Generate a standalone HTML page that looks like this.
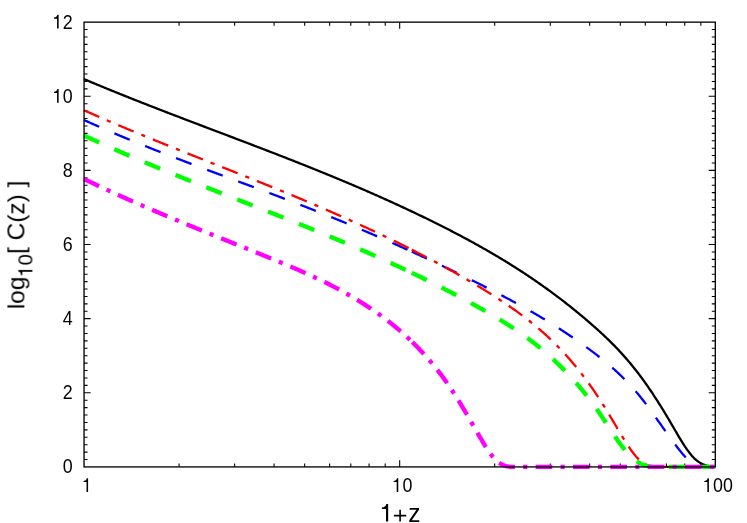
<!DOCTYPE html>
<html lang="en"><head><meta charset="utf-8"><title>log10[ C(z) ] vs 1+z</title>
<style>html,body{margin:0;padding:0;background:#fff;}body{width:747px;height:523px;overflow:hidden;font-family:"Liberation Sans",sans-serif;}svg{display:block;}</style></head>
<body>
<svg width="747" height="523" viewBox="0 0 747 523" font-family="'Liberation Sans', sans-serif" fill="#000">
<rect width="747" height="523" fill="#fff"/>
<g id="ticks"><path d="M84.05,459.51h3.5M715.30,459.51h-3.5M84.05,452.09h3.5M715.30,452.09h-3.5M84.05,444.68h3.5M715.30,444.68h-3.5M84.05,437.27h3.5M715.30,437.27h-3.5M84.05,429.86h3.5M715.30,429.86h-3.5M84.05,422.44h3.5M715.30,422.44h-3.5M84.05,415.03h3.5M715.30,415.03h-3.5M84.05,407.62h3.5M715.30,407.62h-3.5M84.05,400.20h3.5M715.30,400.20h-3.5M84.05,392.79h6.6M715.30,392.79h-6.6M84.05,385.38h3.5M715.30,385.38h-3.5M84.05,377.97h3.5M715.30,377.97h-3.5M84.05,370.55h3.5M715.30,370.55h-3.5M84.05,363.14h3.5M715.30,363.14h-3.5M84.05,355.73h3.5M715.30,355.73h-3.5M84.05,348.31h3.5M715.30,348.31h-3.5M84.05,340.90h3.5M715.30,340.90h-3.5M84.05,333.49h3.5M715.30,333.49h-3.5M84.05,326.08h3.5M715.30,326.08h-3.5M84.05,318.66h6.6M715.30,318.66h-6.6M84.05,311.25h3.5M715.30,311.25h-3.5M84.05,303.84h3.5M715.30,303.84h-3.5M84.05,296.42h3.5M715.30,296.42h-3.5M84.05,289.01h3.5M715.30,289.01h-3.5M84.05,281.60h3.5M715.30,281.60h-3.5M84.05,274.19h3.5M715.30,274.19h-3.5M84.05,266.77h3.5M715.30,266.77h-3.5M84.05,259.36h3.5M715.30,259.36h-3.5M84.05,251.95h3.5M715.30,251.95h-3.5M84.05,244.53h6.6M715.30,244.53h-6.6M84.05,237.12h3.5M715.30,237.12h-3.5M84.05,229.71h3.5M715.30,229.71h-3.5M84.05,222.30h3.5M715.30,222.30h-3.5M84.05,214.88h3.5M715.30,214.88h-3.5M84.05,207.47h3.5M715.30,207.47h-3.5M84.05,200.06h3.5M715.30,200.06h-3.5M84.05,192.65h3.5M715.30,192.65h-3.5M84.05,185.23h3.5M715.30,185.23h-3.5M84.05,177.82h3.5M715.30,177.82h-3.5M84.05,170.41h6.6M715.30,170.41h-6.6M84.05,162.99h3.5M715.30,162.99h-3.5M84.05,155.58h3.5M715.30,155.58h-3.5M84.05,148.17h3.5M715.30,148.17h-3.5M84.05,140.76h3.5M715.30,140.76h-3.5M84.05,133.34h3.5M715.30,133.34h-3.5M84.05,125.93h3.5M715.30,125.93h-3.5M84.05,118.52h3.5M715.30,118.52h-3.5M84.05,111.10h3.5M715.30,111.10h-3.5M84.05,103.69h3.5M715.30,103.69h-3.5M84.05,96.28h6.6M715.30,96.28h-6.6M84.05,88.87h3.5M715.30,88.87h-3.5M84.05,81.45h3.5M715.30,81.45h-3.5M84.05,74.04h3.5M715.30,74.04h-3.5M84.05,66.63h3.5M715.30,66.63h-3.5M84.05,59.21h3.5M715.30,59.21h-3.5M84.05,51.80h3.5M715.30,51.80h-3.5M84.05,44.39h3.5M715.30,44.39h-3.5M84.05,36.98h3.5M715.30,36.98h-3.5M84.05,29.56h3.5M715.30,29.56h-3.5M179.06,466.92v-3.5M179.06,22.15v3.5M234.64,466.92v-3.5M234.64,22.15v3.5M274.08,466.92v-3.5M274.08,22.15v3.5M304.66,466.92v-3.5M304.66,22.15v3.5M329.65,466.92v-3.5M329.65,22.15v3.5M350.78,466.92v-3.5M350.78,22.15v3.5M369.09,466.92v-3.5M369.09,22.15v3.5M385.23,466.92v-3.5M385.23,22.15v3.5M399.68,466.92v-6.6M399.68,22.15v6.6M494.69,466.92v-3.5M494.69,22.15v3.5M550.27,466.92v-3.5M550.27,22.15v3.5M589.70,466.92v-3.5M589.70,22.15v3.5M620.29,466.92v-3.5M620.29,22.15v3.5M645.28,466.92v-3.5M645.28,22.15v3.5M666.41,466.92v-3.5M666.41,22.15v3.5M684.71,466.92v-3.5M684.71,22.15v3.5M700.86,466.92v-3.5M700.86,22.15v3.5" stroke="#000" stroke-width="1.08" fill="none"/>
</g>
<g id="curves" stroke-linecap="butt" stroke-linejoin="round">
<path d="M84.05,79.13 L85.05,79.55 L86.05,79.97 L87.05,80.39 L88.05,80.81 L89.05,81.24 L90.05,81.65 L91.05,82.07 L92.05,82.49 L93.05,82.91 L94.05,83.33 L95.05,83.74 L96.05,84.16 L97.05,84.57 L98.05,84.99 L99.05,85.40 L100.05,85.81 L101.05,86.23 L102.05,86.64 L103.05,87.05 L104.05,87.46 L105.05,87.87 L106.05,88.28 L107.05,88.69 L108.05,89.10 L109.05,89.51 L110.05,89.92 L111.05,90.32 L112.05,90.73 L113.05,91.14 L114.05,91.54 L115.05,91.95 L116.05,92.35 L117.05,92.76 L118.05,93.16 L119.05,93.56 L120.05,93.97 L121.05,94.37 L122.05,94.77 L123.05,95.17 L124.05,95.57 L125.05,95.97 L126.05,96.37 L127.05,96.77 L128.05,97.17 L129.05,97.57 L130.05,97.97 L131.05,98.37 L132.05,98.76 L133.05,99.16 L134.05,99.56 L135.05,99.95 L136.05,100.35 L137.05,100.74 L138.05,101.14 L139.05,101.53 L140.05,101.93 L141.05,102.32 L142.05,102.71 L143.05,103.11 L144.05,103.50 L145.05,103.89 L146.05,104.28 L147.05,104.67 L148.05,105.07 L149.05,105.46 L150.05,105.85 L151.05,106.24 L152.05,106.63 L153.05,107.02 L154.05,107.41 L155.05,107.79 L156.05,108.18 L157.05,108.57 L158.05,108.96 L159.05,109.35 L160.05,109.73 L161.05,110.12 L162.05,110.51 L163.05,110.89 L164.05,111.28 L165.05,111.67 L166.05,112.05 L167.05,112.44 L168.05,112.82 L169.05,113.21 L170.05,113.59 L171.05,113.98 L172.05,114.36 L173.05,114.75 L174.05,115.13 L175.05,115.51 L176.05,115.90 L177.05,116.28 L178.05,116.66 L179.05,117.05 L180.05,117.43 L181.05,117.81 L182.05,118.19 L183.05,118.58 L184.05,118.96 L185.05,119.34 L186.05,119.72 L187.05,120.10 L188.05,120.48 L189.05,120.87 L190.05,121.25 L191.05,121.63 L192.05,122.01 L193.05,122.39 L194.05,122.77 L195.05,123.15 L196.05,123.53 L197.05,123.91 L198.05,124.29 L199.05,124.67 L200.05,125.05 L201.05,125.43 L202.05,125.81 L203.05,126.19 L204.05,126.57 L205.05,126.95 L206.05,127.33 L207.05,127.71 L208.05,128.09 L209.05,128.47 L210.05,128.85 L211.05,129.23 L212.05,129.60 L213.05,129.98 L214.05,130.36 L215.05,130.74 L216.05,131.12 L217.05,131.50 L218.05,131.88 L219.05,132.26 L220.05,132.64 L221.05,133.02 L222.05,133.40 L223.05,133.78 L224.05,134.16 L225.05,134.54 L226.05,134.91 L227.05,135.29 L228.05,135.67 L229.05,136.05 L230.05,136.43 L231.05,136.81 L232.05,137.19 L233.05,137.57 L234.05,137.95 L235.05,138.33 L236.05,138.71 L237.05,139.09 L238.05,139.47 L239.05,139.85 L240.05,140.23 L241.05,140.61 L242.05,140.99 L243.05,141.38 L244.05,141.76 L245.05,142.14 L246.05,142.52 L247.05,142.90 L248.05,143.28 L249.05,143.66 L250.05,144.05 L251.05,144.43 L252.05,144.81 L253.05,145.19 L254.05,145.57 L255.05,145.96 L256.05,146.34 L257.05,146.72 L258.05,147.11 L259.05,147.49 L260.05,147.87 L261.05,148.26 L262.05,148.64 L263.05,149.03 L264.05,149.41 L265.05,149.80 L266.05,150.18 L267.05,150.57 L268.05,150.95 L269.05,151.34 L270.05,151.72 L271.05,152.11 L272.05,152.50 L273.05,152.88 L274.05,153.27 L275.05,153.66 L276.05,154.05 L277.05,154.43 L278.05,154.82 L279.05,155.21 L280.05,155.60 L281.05,155.99 L282.05,156.38 L283.05,156.77 L284.05,157.16 L285.05,157.55 L286.05,157.94 L287.05,158.33 L288.05,158.72 L289.05,159.12 L290.05,159.51 L291.05,159.90 L292.05,160.29 L293.05,160.69 L294.05,161.08 L295.05,161.47 L296.05,161.87 L297.05,162.26 L298.05,162.66 L299.05,163.06 L300.05,163.45 L301.05,163.85 L302.05,164.25 L303.05,164.64 L304.05,165.04 L305.05,165.44 L306.05,165.84 L307.05,166.24 L308.05,166.64 L309.05,167.04 L310.05,167.44 L311.05,167.84 L312.05,168.24 L313.05,168.64 L314.05,169.04 L315.05,169.45 L316.05,169.85 L317.05,170.25 L318.05,170.66 L319.05,171.06 L320.05,171.47 L321.05,171.87 L322.05,172.28 L323.05,172.69 L324.05,173.10 L325.05,173.50 L326.05,173.91 L327.05,174.32 L328.05,174.73 L329.05,175.14 L330.05,175.55 L331.05,175.96 L332.05,176.37 L333.05,176.79 L334.05,177.20 L335.05,177.61 L336.05,178.03 L337.05,178.44 L338.05,178.86 L339.05,179.27 L340.05,179.69 L341.05,180.11 L342.05,180.53 L343.05,180.94 L344.05,181.36 L345.05,181.78 L346.05,182.20 L347.05,182.62 L348.05,183.04 L349.05,183.47 L350.05,183.89 L351.05,184.31 L352.05,184.74 L353.05,185.16 L354.05,185.59 L355.05,186.01 L356.05,186.44 L357.05,186.87 L358.05,187.30 L359.05,187.73 L360.05,188.16 L361.05,188.59 L362.05,189.02 L363.05,189.45 L364.05,189.88 L365.05,190.32 L366.05,190.75 L367.05,191.18 L368.05,191.62 L369.05,192.06 L370.05,192.49 L371.05,192.93 L372.05,193.37 L373.05,193.81 L374.05,194.25 L375.05,194.69 L376.05,195.13 L377.05,195.57 L378.05,196.02 L379.05,196.46 L380.05,196.91 L381.05,197.35 L382.05,197.80 L383.05,198.25 L384.05,198.69 L385.05,199.14 L386.05,199.59 L387.05,200.04 L388.05,200.50 L389.05,200.95 L390.05,201.40 L391.05,201.85 L392.05,202.31 L393.05,202.77 L394.05,203.22 L395.05,203.68 L396.05,204.14 L397.05,204.60 L398.05,205.06 L399.05,205.52 L400.05,205.98 L401.05,206.44 L402.05,206.91 L403.05,207.37 L404.05,207.84 L405.05,208.30 L406.05,208.77 L407.05,209.24 L408.05,209.71 L409.05,210.18 L410.05,210.65 L411.05,211.12 L412.05,211.60 L413.05,212.07 L414.05,212.55 L415.05,213.02 L416.05,213.50 L417.05,213.98 L418.05,214.46 L419.05,214.94 L420.05,215.42 L421.05,215.90 L422.05,216.38 L423.05,216.87 L424.05,217.35 L425.05,217.84 L426.05,218.33 L427.05,218.82 L428.05,219.30 L429.05,219.80 L430.05,220.29 L431.05,220.78 L432.05,221.27 L433.05,221.77 L434.05,222.26 L435.05,222.76 L436.05,223.26 L437.05,223.76 L438.05,224.26 L439.05,224.76 L440.05,225.26 L441.05,225.76 L442.05,226.27 L443.05,226.77 L444.05,227.28 L445.05,227.79 L446.05,228.30 L447.05,228.81 L448.05,229.32 L449.05,229.83 L450.05,230.35 L451.05,230.86 L452.05,231.38 L453.05,231.90 L454.05,232.42 L455.05,232.94 L456.05,233.46 L457.05,233.98 L458.05,234.51 L459.05,235.03 L460.05,235.56 L461.05,236.09 L462.05,236.62 L463.05,237.15 L464.05,237.69 L465.05,238.22 L466.05,238.76 L467.05,239.30 L468.05,239.84 L469.05,240.38 L470.05,240.92 L471.05,241.47 L472.05,242.01 L473.05,242.56 L474.05,243.11 L475.05,243.66 L476.05,244.22 L477.05,244.77 L478.05,245.33 L479.05,245.89 L480.05,246.45 L481.05,247.01 L482.05,247.57 L483.05,248.14 L484.05,248.71 L485.05,249.28 L486.05,249.85 L487.05,250.42 L488.05,251.00 L489.05,251.57 L490.05,252.15 L491.05,252.73 L492.05,253.32 L493.05,253.90 L494.05,254.49 L495.05,255.08 L496.05,255.67 L497.05,256.26 L498.05,256.86 L499.05,257.46 L500.05,258.06 L501.05,258.66 L502.05,259.26 L503.05,259.87 L504.05,260.48 L505.05,261.09 L506.05,261.70 L507.05,262.32 L508.05,262.93 L509.05,263.55 L510.05,264.18 L511.05,264.80 L512.05,265.43 L513.05,266.06 L514.05,266.69 L515.05,267.32 L516.05,267.96 L517.05,268.60 L518.05,269.24 L519.05,269.88 L520.05,270.53 L521.05,271.18 L522.05,271.83 L523.05,272.48 L524.05,273.14 L525.05,273.80 L526.05,274.46 L527.05,275.12 L528.05,275.79 L529.05,276.46 L530.05,277.13 L531.05,277.81 L532.05,278.49 L533.05,279.17 L534.05,279.85 L535.05,280.54 L536.05,281.22 L537.05,281.92 L538.05,282.61 L539.05,283.31 L540.05,284.01 L541.05,284.71 L542.05,285.42 L543.05,286.12 L544.05,286.84 L545.05,287.55 L546.05,288.27 L547.05,288.99 L548.05,289.71 L549.05,290.44 L550.05,291.17 L551.05,291.90 L552.05,292.63 L553.05,293.37 L554.05,294.11 L555.05,294.86 L556.05,295.61 L557.05,296.36 L558.05,297.11 L559.05,297.87 L560.05,298.63 L561.05,299.39 L562.05,300.16 L563.05,300.93 L564.05,301.70 L565.05,302.48 L566.05,303.26 L567.05,304.04 L568.05,304.83 L569.05,305.62 L570.05,306.41 L571.05,307.21 L572.05,308.01 L573.05,308.82 L574.05,309.62 L575.05,310.43 L576.05,311.25 L577.05,312.06 L578.05,312.89 L579.05,313.71 L580.05,314.54 L581.05,315.37 L582.05,316.21 L583.05,317.04 L584.05,317.89 L585.05,318.73 L586.05,319.58 L587.05,320.44 L588.05,321.29 L589.05,322.15 L590.05,323.02 L591.05,323.89 L592.05,324.76 L593.05,325.64 L594.05,326.52 L595.05,327.40 L596.05,328.29 L597.05,329.19 L598.05,330.09 L599.05,330.99 L600.05,331.91 L601.05,332.82 L602.05,333.75 L603.05,334.68 L604.05,335.62 L605.05,336.56 L606.05,337.51 L607.05,338.47 L608.05,339.44 L609.05,340.41 L610.05,341.39 L611.05,342.38 L612.05,343.38 L613.05,344.39 L614.05,345.41 L615.05,346.43 L616.05,347.47 L617.05,348.51 L618.05,349.56 L619.05,350.63 L620.05,351.70 L621.05,352.79 L622.05,353.88 L623.05,354.99 L624.05,356.11 L625.05,357.24 L626.05,358.38 L627.05,359.53 L628.05,360.69 L629.05,361.87 L630.05,363.06 L631.05,364.26 L632.05,365.48 L633.05,366.71 L634.05,367.95 L635.05,369.20 L636.05,370.47 L637.05,371.76 L638.05,373.05 L639.05,374.37 L640.05,375.69 L641.05,377.03 L642.05,378.39 L643.05,379.76 L644.05,381.15 L645.05,382.55 L646.05,383.96 L647.05,385.39 L648.05,386.83 L649.05,388.29 L650.05,389.76 L651.05,391.24 L652.05,392.73 L653.05,394.24 L654.05,395.76 L655.05,397.29 L656.05,398.84 L657.05,400.39 L658.05,401.96 L659.05,403.54 L660.05,405.13 L661.05,406.73 L662.05,408.35 L663.05,409.97 L664.05,411.61 L665.05,413.25 L666.05,414.91 L667.05,416.58 L668.05,418.25 L669.05,419.94 L670.05,421.64 L671.05,423.34 L672.05,425.06 L673.05,426.78 L674.05,428.50 L675.05,430.22 L676.05,431.94 L677.05,433.66 L678.05,435.36 L679.05,437.04 L680.05,438.71 L681.05,440.35 L682.05,441.97 L683.05,443.56 L684.05,445.12 L685.05,446.64 L686.05,448.12 L687.05,449.55 L688.05,450.94 L689.05,452.28 L690.05,453.56 L691.05,454.78 L692.05,455.95 L693.05,457.04 L694.05,458.07 L695.05,459.02 L696.05,459.90 L697.05,460.71 L698.05,461.45 L699.05,462.13 L700.05,462.74 L701.05,463.30 L702.05,463.80 L703.05,464.25 L704.05,464.64 L705.05,464.99 L706.05,465.29 L707.05,465.56 L708.05,465.78 L709.05,465.97 L710.05,466.12 L711.05,466.25 L712.05,466.36 L713.05,466.45 L714.05,466.52 L715.05,466.59" stroke="#000" stroke-width="2.3" fill="none"/>

<path d="M84.05,120.03 L85.05,120.48 L86.05,120.94 L87.05,121.39 L88.05,121.84 L89.05,122.29 L90.05,122.74 L91.05,123.19 L92.05,123.64 L93.05,124.08 L94.05,124.53 L95.05,124.97 L96.05,125.42 L97.05,125.86 L98.05,126.30 L99.05,126.74 L100.05,127.18 L101.05,127.62 L102.05,128.05 L103.05,128.49 L104.05,128.92 L105.05,129.36 L106.05,129.79 L107.05,130.22 L108.05,130.65 L109.05,131.08 L110.05,131.51 L111.05,131.94 L112.05,132.37 L113.05,132.79 L114.05,133.22 L115.05,133.64 L116.05,134.07 L117.05,134.49 L118.05,134.91 L119.05,135.33 L120.05,135.75 L121.05,136.17 L122.05,136.59 L123.05,137.01 L124.05,137.42 L125.05,137.84 L126.05,138.25 L127.05,138.67 L128.05,139.08 L129.05,139.49 L130.05,139.91 L131.05,140.32 L132.05,140.73 L133.05,141.14 L134.05,141.55 L135.05,141.95 L136.05,142.36 L137.05,142.77 L138.05,143.17 L139.05,143.58 L140.05,143.98 L141.05,144.39 L142.05,144.79 L143.05,145.19 L144.05,145.59 L145.05,145.99 L146.05,146.39 L147.05,146.79 L148.05,147.19 L149.05,147.59 L150.05,147.99 L151.05,148.38 L152.05,148.78 L153.05,149.18 L154.05,149.57 L155.05,149.96 L156.05,150.36 L157.05,150.75 L158.05,151.14 L159.05,151.54 L160.05,151.93 L161.05,152.32 L162.05,152.71 L163.05,153.10 L164.05,153.49 L165.05,153.88 L166.05,154.26 L167.05,154.65 L168.05,155.04 L169.05,155.43 L170.05,155.81 L171.05,156.20 L172.05,156.58 L173.05,156.97 L174.05,157.35 L175.05,157.74 L176.05,158.12 L177.05,158.50 L178.05,158.89 L179.05,159.27 L180.05,159.65 L181.05,160.03 L182.05,160.41 L183.05,160.79 L184.05,161.17 L185.05,161.55 L186.05,161.93 L187.05,162.31 L188.05,162.69 L189.05,163.07 L190.05,163.45 L191.05,163.82 L192.05,164.20 L193.05,164.58 L194.05,164.96 L195.05,165.33 L196.05,165.71 L197.05,166.08 L198.05,166.46 L199.05,166.84 L200.05,167.21 L201.05,167.59 L202.05,167.96 L203.05,168.33 L204.05,168.71 L205.05,169.08 L206.05,169.46 L207.05,169.83 L208.05,170.20 L209.05,170.58 L210.05,170.95 L211.05,171.32 L212.05,171.69 L213.05,172.07 L214.05,172.44 L215.05,172.81 L216.05,173.18 L217.05,173.55 L218.05,173.93 L219.05,174.30 L220.05,174.67 L221.05,175.04 L222.05,175.41 L223.05,175.78 L224.05,176.15 L225.05,176.53 L226.05,176.90 L227.05,177.27 L228.05,177.64 L229.05,178.01 L230.05,178.38 L231.05,178.75 L232.05,179.12 L233.05,179.49 L234.05,179.86 L235.05,180.23 L236.05,180.60 L237.05,180.98 L238.05,181.35 L239.05,181.72 L240.05,182.09 L241.05,182.46 L242.05,182.83 L243.05,183.20 L244.05,183.57 L245.05,183.94 L246.05,184.31 L247.05,184.69 L248.05,185.06 L249.05,185.43 L250.05,185.80 L251.05,186.17 L252.05,186.54 L253.05,186.92 L254.05,187.29 L255.05,187.66 L256.05,188.03 L257.05,188.41 L258.05,188.78 L259.05,189.15 L260.05,189.53 L261.05,189.90 L262.05,190.27 L263.05,190.65 L264.05,191.02 L265.05,191.40 L266.05,191.77 L267.05,192.15 L268.05,192.52 L269.05,192.90 L270.05,193.27 L271.05,193.65 L272.05,194.02 L273.05,194.40 L274.05,194.78 L275.05,195.15 L276.05,195.53 L277.05,195.91 L278.05,196.29 L279.05,196.67 L280.05,197.05 L281.05,197.43 L282.05,197.80 L283.05,198.18 L284.05,198.56 L285.05,198.95 L286.05,199.33 L287.05,199.71 L288.05,200.09 L289.05,200.47 L290.05,200.86 L291.05,201.24 L292.05,201.62 L293.05,202.01 L294.05,202.39 L295.05,202.78 L296.05,203.16 L297.05,203.55 L298.05,203.93 L299.05,204.32 L300.05,204.71 L301.05,205.10 L302.05,205.48 L303.05,205.87 L304.05,206.26 L305.05,206.65 L306.05,207.04 L307.05,207.43 L308.05,207.83 L309.05,208.22 L310.05,208.61 L311.05,209.00 L312.05,209.40 L313.05,209.79 L314.05,210.19 L315.05,210.58 L316.05,210.98 L317.05,211.38 L318.05,211.77 L319.05,212.17 L320.05,212.57 L321.05,212.97 L322.05,213.37 L323.05,213.77 L324.05,214.17 L325.05,214.57 L326.05,214.97 L327.05,215.38 L328.05,215.78 L329.05,216.18 L330.05,216.59 L331.05,216.99 L332.05,217.40 L333.05,217.80 L334.05,218.21 L335.05,218.62 L336.05,219.03 L337.05,219.44 L338.05,219.84 L339.05,220.25 L340.05,220.66 L341.05,221.08 L342.05,221.49 L343.05,221.90 L344.05,222.31 L345.05,222.72 L346.05,223.14 L347.05,223.55 L348.05,223.97 L349.05,224.38 L350.05,224.80 L351.05,225.22 L352.05,225.63 L353.05,226.05 L354.05,226.47 L355.05,226.89 L356.05,227.31 L357.05,227.73 L358.05,228.15 L359.05,228.57 L360.05,229.00 L361.05,229.42 L362.05,229.84 L363.05,230.27 L364.05,230.69 L365.05,231.12 L366.05,231.54 L367.05,231.97 L368.05,232.40 L369.05,232.83 L370.05,233.25 L371.05,233.68 L372.05,234.11 L373.05,234.54 L374.05,234.97 L375.05,235.41 L376.05,235.84 L377.05,236.27 L378.05,236.70 L379.05,237.14 L380.05,237.57 L381.05,238.01 L382.05,238.44 L383.05,238.88 L384.05,239.32 L385.05,239.76 L386.05,240.19 L387.05,240.63 L388.05,241.07 L389.05,241.51 L390.05,241.96 L391.05,242.40 L392.05,242.84 L393.05,243.28 L394.05,243.73 L395.05,244.17 L396.05,244.61 L397.05,245.06 L398.05,245.51 L399.05,245.95 L400.05,246.40 L401.05,246.85 L402.05,247.30 L403.05,247.75 L404.05,248.20 L405.05,248.65 L406.05,249.10 L407.05,249.55 L408.05,250.00 L409.05,250.46 L410.05,250.91 L411.05,251.36 L411.80,251.71" stroke="#0000ff" stroke-width="2.3" stroke-dasharray="16.60,16.60" fill="none"/>
<path d="M411.80,251.71 L412.05,251.82 L413.05,252.28 L414.05,252.73 L415.05,253.19 L416.05,253.65 L417.05,254.11 L418.05,254.56 L419.05,255.02 L420.05,255.48 L421.05,255.95 L422.05,256.41 L423.05,256.87 L424.05,257.33 L425.05,257.80 L426.05,258.26 L427.05,258.73 L428.05,259.19 L429.05,259.66 L430.05,260.12 L431.05,260.59 L432.05,261.06 L433.05,261.53 L434.05,262.00 L435.05,262.47 L436.05,262.94 L437.05,263.41 L438.05,263.88 L439.05,264.36 L440.05,264.83 L441.05,265.31 L442.05,265.78 L443.05,266.26 L444.05,266.73 L445.05,267.21 L446.05,267.69 L447.05,268.17 L448.05,268.65 L449.05,269.13 L450.05,269.61 L451.05,270.09 L452.05,270.57 L453.05,271.05 L454.05,271.53 L455.05,272.02 L456.05,272.50 L457.05,272.99 L458.05,273.47 L459.05,273.96 L460.05,274.45 L461.05,274.94 L462.05,275.42 L463.05,275.91 L464.05,276.40 L465.05,276.89 L466.05,277.39 L467.05,277.88 L468.05,278.37 L469.05,278.86 L470.05,279.36 L471.05,279.85 L472.05,280.35 L473.05,280.85 L474.05,281.34 L475.05,281.84 L476.05,282.34 L477.05,282.84 L478.05,283.34 L479.05,283.84 L480.05,284.34 L481.05,284.84 L482.05,285.34 L483.05,285.85 L484.05,286.35 L485.05,286.86 L486.05,287.36 L487.05,287.87 L488.05,288.38 L489.05,288.89 L490.05,289.40 L491.05,289.91 L492.05,290.42 L493.05,290.93 L494.05,291.44 L495.05,291.96 L496.05,292.47 L497.05,292.99 L498.05,293.51 L499.05,294.03 L500.05,294.55 L501.05,295.07 L502.05,295.59 L503.05,296.12 L504.05,296.64 L505.05,297.17 L506.05,297.70 L507.05,298.23 L508.05,298.76 L509.05,299.29 L510.05,299.83 L511.05,300.37 L512.05,300.90 L513.05,301.44 L514.05,301.98 L515.05,302.52 L516.05,303.07 L517.05,303.61 L518.05,304.16 L519.05,304.71 L520.05,305.26 L521.05,305.81 L522.05,306.37 L523.05,306.93 L524.05,307.48 L525.05,308.04 L526.05,308.61 L527.05,309.17 L528.05,309.74 L529.05,310.31 L530.05,310.88 L531.05,311.45 L532.05,312.02 L533.05,312.60 L534.05,313.18 L535.05,313.76 L536.05,314.34 L537.05,314.93 L538.05,315.52 L539.05,316.10 L540.05,316.70 L541.05,317.29 L542.05,317.89 L543.05,318.49 L544.05,319.09 L545.05,319.69 L546.05,320.30 L547.05,320.91 L548.05,321.52 L549.05,322.14 L550.05,322.75 L551.05,323.37 L552.05,324.00 L553.05,324.62 L554.05,325.25 L555.05,325.88 L556.05,326.51 L557.05,327.15 L558.05,327.79 L559.05,328.43 L560.05,329.07 L561.05,329.72 L562.05,330.37 L563.05,331.02 L564.05,331.68 L565.05,332.34 L566.05,333.00 L567.05,333.67 L568.05,334.34 L569.05,335.01 L570.05,335.68 L571.05,336.36 L572.05,337.04 L573.05,337.73 L574.05,338.41 L575.05,339.11 L576.05,339.80 L577.05,340.50 L578.05,341.20 L579.05,341.90 L580.05,342.61 L581.05,343.32 L582.05,344.04 L583.05,344.76 L584.05,345.48 L585.05,346.20 L586.05,346.93 L587.05,347.66 L588.05,348.40 L589.05,349.14 L590.05,349.88 L591.05,350.63 L592.05,351.38 L593.05,352.14 L594.05,352.89 L595.05,353.66 L596.05,354.42 L597.05,355.20 L598.05,355.97 L599.05,356.75 L600.05,357.54 L601.05,358.33 L602.05,359.13 L603.05,359.93 L604.05,360.74 L605.05,361.56 L606.05,362.38 L607.05,363.22 L608.05,364.05 L609.05,364.90 L610.05,365.76 L611.05,366.62 L612.05,367.49 L613.05,368.37 L614.05,369.26 L615.05,370.16 L616.05,371.07 L617.05,371.99 L618.05,372.92 L619.05,373.86 L620.05,374.81 L621.05,375.77 L622.05,376.74 L623.05,377.72 L624.05,378.72 L625.05,379.73 L626.05,380.75 L627.05,381.78 L628.05,382.83 L629.05,383.89 L630.05,384.96 L631.05,386.05 L632.05,387.15 L633.05,388.27 L634.05,389.40 L635.05,390.54 L636.05,391.70 L637.05,392.88 L638.05,394.07 L639.05,395.27 L640.05,396.50 L641.05,397.74 L642.05,398.99 L643.05,400.27 L644.05,401.56 L645.05,402.86 L646.05,404.17 L647.05,405.50 L648.05,406.84 L649.05,408.20 L650.05,409.56 L651.05,410.93 L652.05,412.31 L653.05,413.70 L654.05,415.09 L655.05,416.49 L656.05,417.89 L657.05,419.30 L658.05,420.71 L659.05,422.13 L660.05,423.54 L661.05,424.96 L662.05,426.37 L663.05,427.79 L664.05,429.20 L665.05,430.60 L666.05,432.01 L667.05,433.41 L668.05,434.80 L669.05,436.19 L670.05,437.57 L671.05,438.94 L672.05,440.30 L673.05,441.65 L674.05,442.99 L675.05,444.32 L676.05,445.64 L677.05,446.94 L678.05,448.23 L679.05,449.50 L680.05,450.75 L681.05,451.99 L682.05,453.21 L683.05,454.41 L684.05,455.57 L685.05,456.69 L686.05,457.77 L687.05,458.80 L688.05,459.76 L689.05,460.67 L690.05,461.51 L691.05,462.28 L692.05,462.97 L693.05,463.60 L694.05,464.16 L695.05,464.66 L696.05,465.10 L697.05,465.48 L698.05,465.81 L699.05,466.08 L700.05,466.30 L701.05,466.48 L702.05,466.62 L703.05,466.72 L704.05,466.79 L705.05,466.84 L706.05,466.86 L707.05,466.87 L708.05,466.87 L709.05,466.87 L710.05,466.87 L711.05,466.87 L712.05,466.87 L713.05,466.87 L714.05,466.87 L715.05,466.90" stroke="#0000ff" stroke-width="2.3" stroke-dasharray="16.60,16.60" fill="none"/>

<path d="M84.05,110.28 L85.05,110.73 L86.05,111.17 L87.05,111.62 L88.05,112.06 L89.05,112.50 L90.05,112.94 L91.05,113.38 L92.05,113.82 L93.05,114.26 L94.05,114.70 L95.05,115.14 L96.05,115.57 L97.05,116.01 L98.05,116.45 L99.05,116.88 L100.05,117.31 L101.05,117.75 L102.05,118.18 L103.05,118.61 L104.05,119.04 L105.05,119.48 L106.05,119.91 L107.05,120.34 L108.05,120.76 L109.05,121.19 L110.05,121.62 L111.05,122.05 L112.05,122.47 L113.05,122.90 L114.05,123.33 L115.05,123.75 L116.05,124.18 L117.05,124.60 L118.05,125.02 L119.05,125.44 L120.05,125.87 L121.05,126.29 L122.05,126.71 L123.05,127.13 L124.05,127.55 L125.05,127.97 L126.05,128.39 L127.05,128.81 L128.05,129.22 L129.05,129.64 L130.05,130.06 L131.05,130.47 L132.05,130.89 L133.05,131.31 L134.05,131.72 L135.05,132.13 L136.05,132.55 L137.05,132.96 L138.05,133.37 L139.05,133.79 L140.05,134.20 L141.05,134.61 L142.05,135.02 L143.05,135.43 L144.05,135.84 L145.05,136.25 L146.05,136.66 L147.05,137.07 L148.05,137.48 L149.05,137.89 L150.05,138.30 L151.05,138.71 L152.05,139.11 L153.05,139.52 L154.05,139.93 L155.05,140.33 L156.05,140.74 L157.05,141.14 L158.05,141.55 L159.05,141.95 L160.05,142.36 L161.05,142.76 L162.05,143.17 L163.05,143.57 L164.05,143.97 L165.05,144.38 L166.05,144.78 L167.05,145.18 L168.05,145.59 L169.05,145.99 L170.05,146.39 L171.05,146.79 L172.05,147.19 L173.05,147.59 L174.05,147.99 L175.05,148.39 L176.05,148.79 L177.05,149.19 L178.05,149.59 L179.05,149.99 L180.05,150.39 L181.05,150.79 L182.05,151.19 L183.05,151.59 L184.05,151.99 L185.05,152.39 L186.05,152.79 L187.05,153.18 L188.05,153.58 L189.05,153.98 L190.05,154.38 L191.05,154.77 L192.05,155.17 L193.05,155.57 L194.05,155.97 L195.05,156.36 L196.05,156.76 L197.05,157.16 L198.05,157.55 L199.05,157.95 L200.05,158.35 L201.05,158.74 L202.05,159.14 L203.05,159.54 L204.05,159.93 L205.05,160.33 L206.05,160.73 L207.05,161.12 L208.05,161.52 L209.05,161.91 L210.05,162.31 L211.05,162.71 L212.05,163.10 L213.05,163.50 L214.05,163.89 L215.05,164.29 L216.05,164.69 L217.05,165.08 L218.05,165.48 L219.05,165.88 L220.05,166.27 L221.05,166.67 L222.05,167.06 L223.05,167.46 L224.05,167.86 L225.05,168.25 L226.05,168.65 L227.05,169.05 L228.05,169.44 L229.05,169.84 L230.05,170.24 L231.05,170.63 L232.05,171.03 L233.05,171.43 L234.05,171.82 L235.05,172.22 L236.05,172.62 L237.05,173.02 L238.05,173.41 L239.05,173.81 L240.05,174.21 L241.05,174.61 L242.05,175.01 L243.05,175.41 L244.05,175.80 L245.05,176.20 L246.05,176.60 L247.05,177.00 L248.05,177.40 L249.05,177.80 L250.05,178.20 L251.05,178.60 L252.05,179.00 L253.05,179.40 L254.05,179.80 L255.05,180.20 L256.05,180.60 L257.05,181.01 L258.05,181.41 L259.05,181.81 L260.05,182.21 L261.05,182.61 L262.05,183.02 L263.05,183.42 L264.05,183.82 L265.05,184.23 L266.05,184.63 L267.05,185.04 L268.05,185.44 L269.05,185.84 L270.05,186.25 L271.05,186.66 L272.05,187.06 L273.05,187.47 L274.05,187.87 L275.05,188.28 L276.05,188.69 L277.05,189.10 L278.05,189.50 L279.05,189.91 L280.05,190.32 L281.05,190.73 L282.05,191.14 L283.05,191.55 L284.05,191.96 L285.05,192.37 L286.05,192.78 L287.05,193.20 L288.05,193.61 L289.05,194.02 L290.05,194.43 L291.05,194.85 L292.05,195.26 L293.05,195.67 L294.05,196.09 L295.05,196.51 L296.05,196.92 L297.05,197.34 L298.05,197.75 L299.05,198.17 L300.05,198.59 L301.05,199.01 L302.05,199.43 L303.05,199.85 L304.05,200.27 L305.05,200.69 L306.05,201.11 L307.05,201.53 L308.05,201.95 L309.05,202.37 L310.05,202.80 L311.05,203.22 L312.05,203.64 L313.05,204.07 L314.05,204.49 L315.05,204.92 L316.05,205.35 L317.05,205.77 L318.05,206.20 L319.05,206.63 L320.05,207.06 L321.05,207.49 L322.05,207.92 L323.05,208.35 L324.05,208.78 L325.05,209.21 L326.05,209.65 L327.05,210.08 L328.05,210.52 L329.05,210.95 L330.05,211.39 L331.05,211.82 L332.05,212.26 L333.05,212.70 L334.05,213.14 L335.05,213.57 L336.05,214.01 L337.05,214.46 L338.05,214.90 L339.05,215.34 L340.05,215.78 L341.05,216.22 L342.05,216.67 L343.05,217.11 L344.05,217.56 L345.05,218.01 L346.05,218.45 L347.05,218.90 L348.05,219.35 L349.05,219.80 L350.05,220.25 L351.05,220.70 L352.05,221.15 L353.05,221.60 L354.05,222.06 L355.05,222.51 L356.05,222.97 L357.05,223.42 L358.05,223.88 L359.05,224.34 L360.05,224.80 L361.05,225.25 L362.05,225.71 L363.05,226.18 L364.05,226.64 L365.05,227.10 L366.05,227.56 L367.05,228.03 L368.05,228.49 L369.05,228.96 L370.05,229.42 L371.05,229.89 L372.05,230.36 L373.05,230.83 L374.05,231.30 L375.05,231.77 L376.05,232.24 L377.05,232.72 L378.05,233.19 L379.05,233.66 L380.05,234.14 L381.05,234.62 L382.05,235.09 L383.05,235.57 L384.05,236.05 L385.05,236.53 L386.05,237.01 L387.05,237.49 L388.05,237.98 L389.05,238.46 L390.05,238.95 L391.05,239.43 L392.05,239.92 L393.05,240.41 L394.05,240.89 L395.05,241.38 L396.05,241.87 L397.05,242.37 L398.05,242.86 L399.05,243.35 L400.05,243.85 L401.05,244.34 L402.05,244.84 L403.05,245.34 L404.05,245.84 L405.05,246.33 L406.05,246.84 L407.05,247.34 L408.05,247.84 L409.05,248.34 L410.05,248.85 L411.05,249.35 L411.80,249.73" stroke="#ff0000" stroke-width="2.3" stroke-dasharray="16.60,8.30,4.15,8.30" fill="none"/>
<path d="M411.80,249.73 L412.05,249.86 L413.05,250.37 L414.05,250.88 L415.05,251.39 L416.05,251.90 L417.05,252.41 L418.05,252.92 L419.05,253.44 L420.05,253.95 L421.05,254.47 L422.05,254.99 L423.05,255.51 L424.05,256.03 L425.05,256.55 L426.05,257.07 L427.05,257.59 L428.05,258.12 L429.05,258.64 L430.05,259.17 L431.05,259.70 L432.05,260.22 L433.05,260.75 L434.05,261.28 L435.05,261.82 L436.05,262.35 L437.05,262.88 L438.05,263.42 L439.05,263.96 L440.05,264.50 L441.05,265.03 L442.05,265.57 L443.05,266.12 L444.05,266.66 L445.05,267.20 L446.05,267.75 L447.05,268.30 L448.05,268.85 L449.05,269.40 L450.05,269.95 L451.05,270.50 L452.05,271.06 L453.05,271.61 L454.05,272.17 L455.05,272.73 L456.05,273.29 L457.05,273.85 L458.05,274.42 L459.05,274.98 L460.05,275.55 L461.05,276.12 L462.05,276.69 L463.05,277.26 L464.05,277.84 L465.05,278.42 L466.05,278.99 L467.05,279.57 L468.05,280.16 L469.05,280.74 L470.05,281.33 L471.05,281.92 L472.05,282.51 L473.05,283.10 L474.05,283.69 L475.05,284.29 L476.05,284.89 L477.05,285.49 L478.05,286.09 L479.05,286.70 L480.05,287.31 L481.05,287.92 L482.05,288.53 L483.05,289.14 L484.05,289.76 L485.05,290.38 L486.05,291.00 L487.05,291.62 L488.05,292.25 L489.05,292.88 L490.05,293.51 L491.05,294.14 L492.05,294.78 L493.05,295.42 L494.05,296.06 L495.05,296.71 L496.05,297.35 L497.05,298.00 L498.05,298.65 L499.05,299.31 L500.05,299.97 L501.05,300.63 L502.05,301.29 L503.05,301.96 L504.05,302.62 L505.05,303.30 L506.05,303.97 L507.05,304.65 L508.05,305.33 L509.05,306.02 L510.05,306.71 L511.05,307.40 L512.05,308.10 L513.05,308.80 L514.05,309.51 L515.05,310.22 L516.05,310.93 L517.05,311.65 L518.05,312.38 L519.05,313.11 L520.05,313.84 L521.05,314.58 L522.05,315.33 L523.05,316.08 L524.05,316.83 L525.05,317.59 L526.05,318.36 L527.05,319.13 L528.05,319.91 L529.05,320.70 L530.05,321.49 L531.05,322.29 L532.05,323.09 L533.05,323.90 L534.05,324.72 L535.05,325.55 L536.05,326.38 L537.05,327.22 L538.05,328.06 L539.05,328.92 L540.05,329.78 L541.05,330.65 L542.05,331.52 L543.05,332.41 L544.05,333.30 L545.05,334.20 L546.05,335.11 L547.05,336.02 L548.05,336.95 L549.05,337.88 L550.05,338.83 L551.05,339.78 L552.05,340.74 L553.05,341.71 L554.05,342.69 L555.05,343.68 L556.05,344.67 L557.05,345.68 L558.05,346.70 L559.05,347.73 L560.05,348.76 L561.05,349.81 L562.05,350.87 L563.05,351.93 L564.05,353.01 L565.05,354.10 L566.05,355.20 L567.05,356.31 L568.05,357.43 L569.05,358.57 L570.05,359.71 L571.05,360.87 L572.05,362.03 L573.05,363.21 L574.05,364.40 L575.05,365.60 L576.05,366.82 L577.05,368.04 L578.05,369.28 L579.05,370.53 L580.05,371.79 L581.05,373.07 L582.05,374.36 L583.05,375.66 L584.05,376.97 L585.05,378.30 L586.05,379.64 L587.05,380.99 L588.05,382.36 L589.05,383.74 L590.05,385.14 L591.05,386.55 L592.05,387.97 L593.05,389.41 L594.05,390.86 L595.05,392.32 L596.05,393.80 L597.05,395.30 L598.05,396.80 L599.05,398.33 L600.05,399.87 L601.05,401.42 L602.05,402.99 L603.05,404.57 L604.05,406.17 L605.05,407.79 L606.05,409.42 L607.05,411.06 L608.05,412.71 L609.05,414.38 L610.05,416.05 L611.05,417.72 L612.05,419.41 L613.05,421.09 L614.05,422.78 L615.05,424.47 L616.05,426.15 L617.05,427.84 L618.05,429.52 L619.05,431.19 L620.05,432.86 L621.05,434.52 L622.05,436.16 L623.05,437.80 L624.05,439.42 L625.05,441.02 L626.05,442.61 L627.05,444.17 L628.05,445.70 L629.05,447.20 L630.05,448.66 L631.05,450.09 L632.05,451.47 L633.05,452.81 L634.05,454.10 L635.05,455.33 L636.05,456.50 L637.05,457.61 L638.05,458.66 L639.05,459.64 L640.05,460.55 L641.05,461.38 L642.05,462.15 L643.05,462.86 L644.05,463.50 L645.05,464.07 L646.05,464.59 L647.05,465.04 L648.05,465.44 L649.05,465.78 L650.05,466.07 L651.05,466.30 L652.05,466.49 L653.05,466.63 L654.05,466.73 L655.05,466.80 L656.05,466.85 L657.05,466.87 L658.05,466.88 L659.05,466.88 L660.05,466.88 L661.05,466.88 L662.05,466.88 L663.05,466.88 L664.05,466.88 L715.30,466.92" stroke="#ff0000" stroke-width="2.3" stroke-dasharray="16.60,8.30,4.15,8.30" fill="none"/>

<path d="M84.05,135.52 L85.05,135.99 L86.05,136.45 L87.05,136.91 L88.05,137.38 L89.05,137.84 L90.05,138.30 L91.05,138.76 L92.05,139.22 L93.05,139.67 L94.05,140.13 L95.05,140.59 L96.05,141.04 L97.05,141.50 L98.05,141.95 L99.05,142.40 L100.05,142.86 L101.05,143.31 L102.05,143.76 L103.05,144.21 L104.05,144.66 L105.05,145.10 L106.05,145.55 L107.05,146.00 L108.05,146.44 L109.05,146.89 L110.05,147.33 L111.05,147.77 L112.05,148.21 L113.05,148.66 L114.05,149.10 L115.05,149.54 L116.05,149.98 L117.05,150.41 L118.05,150.85 L119.05,151.29 L120.05,151.73 L121.05,152.16 L122.05,152.60 L123.05,153.03 L124.05,153.46 L125.05,153.90 L126.05,154.33 L127.05,154.76 L128.05,155.19 L129.05,155.62 L130.05,156.05 L131.05,156.48 L132.05,156.91 L133.05,157.33 L134.05,157.76 L135.05,158.19 L136.05,158.61 L137.05,159.04 L138.05,159.46 L139.05,159.88 L140.05,160.31 L141.05,160.73 L142.05,161.15 L143.05,161.57 L144.05,161.99 L145.05,162.41 L146.05,162.83 L147.05,163.25 L148.05,163.67 L149.05,164.09 L150.05,164.50 L151.05,164.92 L152.05,165.34 L153.05,165.75 L154.05,166.17 L155.05,166.58 L156.05,167.00 L157.05,167.41 L158.05,167.82 L159.05,168.24 L160.05,168.65 L161.05,169.06 L162.05,169.47 L163.05,169.88 L164.05,170.29 L165.05,170.70 L166.05,171.11 L167.05,171.52 L168.05,171.93 L169.05,172.34 L170.05,172.74 L171.05,173.15 L172.05,173.56 L173.05,173.96 L174.05,174.37 L175.05,174.77 L176.05,175.18 L177.05,175.58 L178.05,175.99 L179.05,176.39 L180.05,176.80 L181.05,177.20 L182.05,177.60 L183.05,178.00 L184.05,178.41 L185.05,178.81 L186.05,179.21 L187.05,179.61 L188.05,180.01 L189.05,180.41 L190.05,180.81 L191.05,181.21 L192.05,181.61 L193.05,182.01 L194.05,182.41 L195.05,182.81 L196.05,183.21 L197.05,183.61 L198.05,184.00 L199.05,184.40 L200.05,184.80 L201.05,185.20 L202.05,185.59 L203.05,185.99 L204.05,186.39 L205.05,186.78 L206.05,187.18 L207.05,187.57 L208.05,187.97 L209.05,188.37 L210.05,188.76 L211.05,189.16 L212.05,189.55 L213.05,189.95 L214.05,190.34 L215.05,190.73 L216.05,191.13 L217.05,191.52 L218.05,191.92 L219.05,192.31 L220.05,192.70 L221.05,193.10 L222.05,193.49 L223.05,193.88 L224.05,194.28 L225.05,194.67 L226.05,195.06 L227.05,195.46 L228.05,195.85 L229.05,196.24 L230.05,196.63 L231.05,197.03 L232.05,197.42 L233.05,197.81 L234.05,198.20 L235.05,198.60 L236.05,198.99 L237.05,199.38 L238.05,199.77 L239.05,200.17 L240.05,200.56 L241.05,200.95 L242.05,201.34 L243.05,201.74 L244.05,202.13 L245.05,202.52 L246.05,202.91 L247.05,203.30 L248.05,203.70 L249.05,204.09 L250.05,204.48 L251.05,204.87 L252.05,205.27 L253.05,205.66 L254.05,206.05 L255.05,206.44 L256.05,206.84 L257.05,207.23 L258.05,207.62 L259.05,208.02 L260.05,208.41 L261.05,208.80 L262.05,209.20 L263.05,209.59 L264.05,209.98 L265.05,210.38 L266.05,210.77 L267.05,211.17 L268.05,211.56 L269.05,211.95 L270.05,212.35 L271.05,212.74 L272.05,213.14 L273.05,213.53 L274.05,213.93 L275.05,214.32 L276.05,214.72 L277.05,215.12 L278.05,215.51 L279.05,215.91 L280.05,216.31 L281.05,216.70 L282.05,217.10 L283.05,217.50 L284.05,217.89 L285.05,218.29 L286.05,218.69 L287.05,219.09 L288.05,219.49 L289.05,219.89 L290.05,220.28 L291.05,220.68 L292.05,221.08 L293.05,221.48 L294.05,221.88 L295.05,222.28 L296.05,222.69 L297.05,223.09 L298.05,223.49 L299.05,223.89 L300.05,224.29 L301.05,224.70 L302.05,225.10 L303.05,225.50 L304.05,225.91 L305.05,226.31 L306.05,226.71 L307.05,227.12 L308.05,227.52 L309.05,227.93 L310.05,228.34 L311.05,228.74 L312.05,229.15 L313.05,229.56 L314.05,229.96 L315.05,230.37 L316.05,230.78 L317.05,231.19 L318.05,231.60 L319.05,232.01 L320.05,232.42 L321.05,232.83 L322.05,233.24 L323.05,233.65 L324.05,234.07 L325.05,234.48 L326.05,234.89 L327.05,235.31 L328.05,235.72 L329.05,236.13 L330.05,236.55 L331.05,236.97 L332.05,237.38 L333.05,237.80 L334.05,238.22 L335.05,238.63 L336.05,239.05 L337.05,239.47 L338.05,239.89 L339.05,240.31 L340.05,240.73 L341.05,241.15 L342.05,241.58 L343.05,242.00 L344.05,242.42 L345.05,242.85 L346.05,243.27 L347.05,243.70 L348.05,244.12 L349.05,244.55 L350.05,244.97 L351.05,245.40 L352.05,245.83 L353.05,246.26 L354.05,246.69 L355.05,247.12 L356.05,247.55 L357.05,247.98 L358.05,248.41 L359.05,248.85 L360.05,249.28 L361.05,249.71 L362.05,250.15 L363.05,250.59 L364.05,251.02 L365.05,251.46 L366.05,251.90 L367.05,252.34 L368.05,252.78 L369.05,253.22 L370.05,253.66 L371.05,254.10 L372.05,254.54 L373.05,254.98 L374.05,255.43 L375.05,255.87 L376.05,256.32 L377.05,256.77 L378.05,257.21 L379.05,257.66 L380.05,258.11 L381.05,258.56 L382.05,259.01 L383.05,259.46 L384.05,259.91 L385.05,260.37 L386.05,260.82 L387.05,261.27 L388.05,261.73 L389.05,262.19 L390.05,262.64 L391.05,263.10 L392.05,263.56 L393.05,264.02 L394.05,264.48 L395.05,264.94 L396.05,265.41 L397.05,265.87 L398.05,266.34 L399.05,266.80 L400.05,267.27 L401.05,267.73 L402.05,268.20 L403.05,268.67 L404.05,269.14 L405.05,269.61 L406.05,270.09 L407.05,270.56 L408.05,271.03 L409.05,271.51 L410.05,271.98 L411.05,272.46 L411.80,272.82" stroke="#00ff00" stroke-width="4.35" stroke-dasharray="16.60,16.60" fill="none"/>
<path d="M411.80,272.82 L412.05,272.94 L413.05,273.42 L414.05,273.90 L415.05,274.38 L416.05,274.86 L417.05,275.35 L418.05,275.83 L419.05,276.32 L420.05,276.80 L421.05,277.29 L422.05,277.78 L423.05,278.27 L424.05,278.76 L425.05,279.25 L426.05,279.74 L427.05,280.24 L428.05,280.73 L429.05,281.23 L430.05,281.73 L431.05,282.22 L432.05,282.72 L433.05,283.22 L434.05,283.73 L435.05,284.23 L436.05,284.73 L437.05,285.24 L438.05,285.74 L439.05,286.25 L440.05,286.76 L441.05,287.27 L442.05,287.78 L443.05,288.29 L444.05,288.81 L445.05,289.32 L446.05,289.84 L447.05,290.35 L448.05,290.87 L449.05,291.39 L450.05,291.91 L451.05,292.44 L452.05,292.96 L453.05,293.48 L454.05,294.01 L455.05,294.54 L456.05,295.06 L457.05,295.59 L458.05,296.12 L459.05,296.66 L460.05,297.19 L461.05,297.72 L462.05,298.26 L463.05,298.80 L464.05,299.34 L465.05,299.88 L466.05,300.42 L467.05,300.96 L468.05,301.50 L469.05,302.05 L470.05,302.60 L471.05,303.14 L472.05,303.69 L473.05,304.24 L474.05,304.80 L475.05,305.35 L476.05,305.91 L477.05,306.46 L478.05,307.02 L479.05,307.58 L480.05,308.14 L481.05,308.70 L482.05,309.26 L483.05,309.83 L484.05,310.40 L485.05,310.97 L486.05,311.54 L487.05,312.11 L488.05,312.69 L489.05,313.26 L490.05,313.84 L491.05,314.43 L492.05,315.01 L493.05,315.60 L494.05,316.19 L495.05,316.78 L496.05,317.38 L497.05,317.98 L498.05,318.58 L499.05,319.18 L500.05,319.79 L501.05,320.40 L502.05,321.02 L503.05,321.64 L504.05,322.26 L505.05,322.89 L506.05,323.52 L507.05,324.15 L508.05,324.79 L509.05,325.43 L510.05,326.08 L511.05,326.73 L512.05,327.39 L513.05,328.05 L514.05,328.71 L515.05,329.38 L516.05,330.05 L517.05,330.73 L518.05,331.42 L519.05,332.11 L520.05,332.80 L521.05,333.50 L522.05,334.20 L523.05,334.91 L524.05,335.63 L525.05,336.35 L526.05,337.08 L527.05,337.81 L528.05,338.55 L529.05,339.29 L530.05,340.04 L531.05,340.80 L532.05,341.56 L533.05,342.33 L534.05,343.11 L535.05,343.89 L536.05,344.68 L537.05,345.48 L538.05,346.28 L539.05,347.09 L540.05,347.91 L541.05,348.73 L542.05,349.56 L543.05,350.40 L544.05,351.25 L545.05,352.10 L546.05,352.96 L547.05,353.83 L548.05,354.70 L549.05,355.59 L550.05,356.48 L551.05,357.38 L552.05,358.29 L553.05,359.21 L554.05,360.13 L555.05,361.06 L556.05,362.01 L557.05,362.96 L558.05,363.92 L559.05,364.88 L560.05,365.86 L561.05,366.85 L562.05,367.84 L563.05,368.84 L564.05,369.86 L565.05,370.88 L566.05,371.91 L567.05,372.96 L568.05,374.01 L569.05,375.07 L570.05,376.15 L571.05,377.23 L572.05,378.33 L573.05,379.43 L574.05,380.55 L575.05,381.68 L576.05,382.82 L577.05,383.97 L578.05,385.13 L579.05,386.30 L580.05,387.49 L581.05,388.69 L582.05,389.90 L583.05,391.12 L584.05,392.35 L585.05,393.60 L586.05,394.86 L587.05,396.13 L588.05,397.42 L589.05,398.72 L590.05,400.03 L591.05,401.36 L592.05,402.70 L593.05,404.05 L594.05,405.42 L595.05,406.81 L596.05,408.20 L597.05,409.61 L598.05,411.04 L599.05,412.48 L600.05,413.94 L601.05,415.41 L602.05,416.89 L603.05,418.39 L604.05,419.91 L605.05,421.43 L606.05,422.96 L607.05,424.49 L608.05,426.02 L609.05,427.56 L610.05,429.09 L611.05,430.62 L612.05,432.13 L613.05,433.64 L614.05,435.14 L615.05,436.62 L616.05,438.08 L617.05,439.52 L618.05,440.94 L619.05,442.34 L620.05,443.70 L621.05,445.04 L622.05,446.35 L623.05,447.62 L624.05,448.86 L625.05,450.06 L626.05,451.23 L627.05,452.36 L628.05,453.46 L629.05,454.52 L630.05,455.53 L631.05,456.51 L632.05,457.45 L633.05,458.34 L634.05,459.19 L635.05,460.00 L636.05,460.76 L637.05,461.47 L638.05,462.14 L639.05,462.76 L640.05,463.33 L641.05,463.85 L642.05,464.32 L643.05,464.74 L644.05,465.11 L645.05,465.43 L646.05,465.71 L647.05,465.95 L648.05,466.16 L649.05,466.33 L650.05,466.47 L651.05,466.58 L652.05,466.66 L653.05,466.73 L654.05,466.78 L655.05,466.81 L656.05,466.83 L657.05,466.83 L658.05,466.84 L659.05,466.84 L660.05,466.84 L661.05,466.84 L715.30,466.92" stroke="#00ff00" stroke-width="4.35" stroke-dasharray="16.60,16.60" fill="none"/>

<path d="M84.05,179.03 L85.05,179.51 L86.05,179.99 L87.05,180.48 L88.05,180.96 L89.05,181.43 L90.05,181.91 L91.05,182.39 L92.05,182.87 L93.05,183.34 L94.05,183.82 L95.05,184.29 L96.05,184.76 L97.05,185.23 L98.05,185.70 L99.05,186.17 L100.05,186.64 L101.05,187.11 L102.05,187.57 L103.05,188.04 L104.05,188.50 L105.05,188.97 L106.05,189.43 L107.05,189.89 L108.05,190.35 L109.05,190.81 L110.05,191.27 L111.05,191.73 L112.05,192.18 L113.05,192.64 L114.05,193.10 L115.05,193.55 L116.05,194.00 L117.05,194.46 L118.05,194.91 L119.05,195.36 L120.05,195.81 L121.05,196.26 L122.05,196.71 L123.05,197.15 L124.05,197.60 L125.05,198.05 L126.05,198.49 L127.05,198.94 L128.05,199.38 L129.05,199.82 L130.05,200.27 L131.05,200.71 L132.05,201.15 L133.05,201.59 L134.05,202.03 L135.05,202.47 L136.05,202.90 L137.05,203.34 L138.05,203.78 L139.05,204.21 L140.05,204.65 L141.05,205.08 L142.05,205.52 L143.05,205.95 L144.05,206.38 L145.05,206.81 L146.05,207.24 L147.05,207.67 L148.05,208.10 L149.05,208.53 L150.05,208.96 L151.05,209.39 L152.05,209.82 L153.05,210.24 L154.05,210.67 L155.05,211.10 L156.05,211.52 L157.05,211.94 L158.05,212.37 L159.05,212.79 L160.05,213.21 L161.05,213.64 L162.05,214.06 L163.05,214.48 L164.05,214.90 L165.05,215.32 L166.05,215.74 L167.05,216.16 L168.05,216.58 L169.05,217.00 L170.05,217.41 L171.05,217.83 L172.05,218.25 L173.05,218.66 L174.05,219.08 L175.05,219.50 L176.05,219.91 L177.05,220.33 L178.05,220.74 L179.05,221.15 L180.05,221.57 L181.05,221.98 L182.05,222.39 L183.05,222.81 L184.05,223.22 L185.05,223.63 L186.05,224.04 L187.05,224.45 L188.05,224.86 L189.05,225.27 L190.05,225.68 L191.05,226.09 L192.05,226.50 L193.05,226.91 L194.05,227.32 L195.05,227.73 L196.05,228.14 L197.05,228.54 L198.05,228.95 L199.05,229.36 L200.05,229.77 L201.05,230.17 L202.05,230.58 L203.05,230.99 L204.05,231.39 L205.05,231.80 L206.05,232.20 L207.05,232.61 L208.05,233.01 L209.05,233.42 L210.05,233.82 L211.05,234.23 L212.05,234.63 L213.05,235.04 L214.05,235.44 L215.05,235.85 L216.05,236.25 L217.05,236.66 L218.05,237.06 L219.05,237.46 L220.05,237.87 L221.05,238.27 L222.05,238.67 L223.05,239.08 L224.05,239.48 L225.05,239.88 L226.05,240.29 L227.05,240.69 L228.05,241.09 L229.05,241.50 L230.05,241.90 L231.05,242.30 L232.05,242.71 L233.05,243.11 L234.05,243.51 L235.05,243.91 L236.05,244.32 L237.05,244.72 L238.05,245.12 L239.05,245.53 L240.05,245.93 L241.05,246.33 L242.05,246.74 L243.05,247.14 L244.05,247.54 L245.05,247.95 L246.05,248.35 L247.05,248.75 L248.05,249.16 L249.05,249.56 L250.05,249.96 L251.05,250.37 L252.05,250.77 L253.05,251.18 L254.05,251.58 L255.05,251.99 L256.05,252.39 L257.05,252.80 L258.05,253.20 L259.05,253.61 L260.05,254.01 L261.05,254.42 L262.05,254.82 L263.05,255.23 L264.05,255.64 L265.05,256.04 L266.05,256.45 L267.05,256.86 L268.05,257.26 L269.05,257.67 L270.05,258.08 L271.05,258.49 L272.05,258.89 L273.05,259.30 L274.05,259.71 L275.05,260.12 L276.05,260.53 L277.05,260.95 L278.05,261.36 L279.05,261.77 L280.05,262.18 L281.05,262.60 L282.05,263.01 L283.05,263.43 L284.05,263.85 L285.05,264.26 L286.05,264.68 L287.05,265.10 L288.05,265.52 L289.05,265.95 L290.05,266.37 L291.05,266.80 L292.05,267.22 L293.05,267.65 L294.05,268.08 L295.05,268.51 L296.05,268.94 L297.05,269.37 L298.05,269.81 L299.05,270.24 L300.05,270.68 L301.05,271.12 L302.05,271.56 L303.05,272.01 L304.05,272.45 L305.05,272.90 L306.05,273.35 L307.05,273.80 L308.05,274.25 L309.05,274.71 L310.05,275.16 L311.05,275.62 L312.05,276.08 L313.05,276.55 L314.05,277.01 L315.05,277.48 L316.05,277.95 L317.05,278.42 L318.05,278.90 L319.05,279.38 L320.05,279.86 L321.05,280.34 L322.05,280.83 L323.05,281.31 L324.05,281.80 L325.05,282.30 L326.05,282.79 L327.05,283.29 L328.05,283.80 L329.05,284.30 L330.05,284.81 L331.05,285.32 L332.05,285.83 L333.05,286.35 L334.05,286.87 L335.05,287.39 L336.05,287.92 L337.05,288.45 L338.05,288.99 L339.05,289.52 L340.05,290.06 L341.05,290.61 L342.05,291.15 L343.05,291.70 L344.05,292.26 L345.05,292.82 L346.05,293.38 L347.05,293.94 L348.05,294.51 L349.05,295.08 L350.05,295.66 L351.05,296.24 L352.05,296.83 L353.05,297.42 L354.05,298.01 L355.05,298.60 L356.05,299.21 L357.05,299.81 L358.05,300.42 L359.05,301.03 L360.05,301.65 L361.05,302.27 L362.05,302.90 L363.05,303.53 L364.05,304.17 L365.05,304.81 L366.05,305.45 L367.05,306.10 L368.05,306.75 L369.05,307.41 L370.05,308.08 L371.05,308.74 L372.05,309.42 L373.05,310.10 L374.05,310.78 L375.05,311.47 L376.05,312.17 L377.05,312.87 L378.05,313.58 L379.05,314.29 L380.05,315.01 L381.05,315.74 L382.05,316.47 L383.05,317.21 L384.05,317.95 L385.05,318.70 L386.05,319.46 L387.05,320.23 L388.05,321.00 L389.05,321.78 L390.05,322.56 L391.05,323.36 L392.05,324.16 L393.05,324.96 L394.05,325.78 L395.05,326.60 L396.05,327.43 L397.05,328.27 L398.05,329.11 L399.05,329.97 L400.05,330.83 L401.05,331.70 L402.05,332.58 L403.05,333.46 L404.05,334.36 L405.05,335.26 L406.05,336.17 L407.05,337.09 L408.05,338.02 L409.05,338.96 L410.05,339.91 L411.05,340.87 L412.05,341.84 L412.30,342.08" stroke="#ff00ff" stroke-width="4.35" stroke-dasharray="16.60,8.30,4.15,8.30" fill="none"/>
<path d="M412.30,342.08 L413.05,342.81 L414.05,343.80 L415.05,344.79 L416.05,345.80 L417.05,346.81 L418.05,347.84 L419.05,348.87 L420.05,349.92 L421.05,350.97 L422.05,352.04 L423.05,353.11 L424.05,354.20 L425.05,355.30 L426.05,356.41 L427.05,357.54 L428.05,358.67 L429.05,359.82 L430.05,360.98 L431.05,362.16 L432.05,363.35 L433.05,364.55 L434.05,365.76 L435.05,366.99 L436.05,368.24 L437.05,369.49 L438.05,370.77 L439.05,372.06 L440.05,373.36 L441.05,374.68 L442.05,376.01 L443.05,377.37 L444.05,378.73 L445.05,380.12 L446.05,381.52 L447.05,382.94 L448.05,384.38 L449.05,385.83 L450.05,387.30 L451.05,388.79 L452.05,390.30 L453.05,391.83 L454.05,393.38 L455.05,394.94 L456.05,396.53 L457.05,398.13 L458.05,399.74 L459.05,401.37 L460.05,403.01 L461.05,404.67 L462.05,406.34 L463.05,408.02 L464.05,409.71 L465.05,411.40 L466.05,413.11 L467.05,414.82 L468.05,416.54 L469.05,418.26 L470.05,419.99 L471.05,421.72 L472.05,423.45 L473.05,425.18 L474.05,426.91 L475.05,428.64 L476.05,430.37 L477.05,432.10 L478.05,433.82 L479.05,435.54 L480.05,437.25 L481.05,438.95 L482.05,440.65 L483.05,442.34 L484.05,444.01 L485.05,445.65 L486.05,447.27 L487.05,448.85 L488.05,450.38 L489.05,451.86 L490.05,453.28 L491.05,454.63 L492.05,455.91 L493.05,457.12 L494.05,458.24 L495.05,459.29 L496.05,460.26 L497.05,461.15 L498.05,461.97 L499.05,462.71 L500.05,463.38 L501.05,463.98 L502.05,464.52 L503.05,464.98 L504.05,465.39 L505.05,465.73 L506.05,466.03 L507.05,466.27 L508.05,466.47 L509.05,466.62 L510.05,466.74 L511.05,466.82 L512.05,466.88 L513.05,466.91 L514.05,466.92 L515.05,466.92 L715.30,466.92" stroke="#ff00ff" stroke-width="4.35" stroke-dasharray="16.60,8.30,4.15,8.30" fill="none"/>

</g>
<g id="frame"><rect x="84.05" y="22.15" width="631.25" height="444.77" fill="none" stroke="#000" stroke-width="1.33"/>
</g>
<g id="labels" opacity="0.999"><g transform="translate(72.70,473.37) scale(0.925,1.035)"><text x="-10.73" y="0.00" font-size="19.3">0</text></g>
<g transform="translate(72.70,399.24) scale(0.925,1.035)"><text x="-10.73" y="0.00" font-size="19.3">2</text></g>
<g transform="translate(72.70,325.11) scale(0.925,1.035)"><text x="-10.73" y="0.00" font-size="19.3">4</text></g>
<g transform="translate(72.70,250.98) scale(0.925,1.035)"><text x="-10.73" y="0.00" font-size="19.3">6</text></g>
<g transform="translate(72.70,176.86) scale(0.925,1.035)"><text x="-10.73" y="0.00" font-size="19.3">8</text></g>
<g transform="translate(72.70,102.73) scale(0.925,1.035)"><path d="M325,0H237V490H68V551C166,555 228,592 253,688H325Z" transform="translate(-21.47,0.00) scale(0.01930,-0.01930)"/><text x="-10.73" y="0.00" font-size="19.3">0</text></g>
<g transform="translate(72.70,28.60) scale(0.925,1.035)"><path d="M325,0H237V490H68V551C166,555 228,592 253,688H325Z" transform="translate(-21.47,0.00) scale(0.01930,-0.01930)"/><text x="-10.73" y="0.00" font-size="19.3">2</text></g>
<g transform="translate(87.25,491.90) scale(0.925,1.035)"><path d="M325,0H237V490H68V551C166,555 228,592 253,688H325Z" transform="translate(-5.37,0.00) scale(0.01930,-0.01930)"/></g>
<g transform="translate(402.38,491.90) scale(0.925,1.035)"><path d="M325,0H237V490H68V551C166,555 228,592 253,688H325Z" transform="translate(-10.73,0.00) scale(0.01930,-0.01930)"/><text x="0.00" y="0.00" font-size="19.3">0</text></g>
<g transform="translate(718.00,491.90) scale(0.925,1.035)"><path d="M325,0H237V490H68V551C166,555 228,592 253,688H325Z" transform="translate(-16.10,0.00) scale(0.01930,-0.01930)"/><text x="-5.37" y="0.00" font-size="19.3">00</text></g>
<g transform="translate(400.30,521.50) scale(1.0,1.035)"><path d="M325,0H237V490H68V551C166,555 228,592 253,688H325Z" transform="translate(-20.09,0.00) scale(0.02450,-0.02450)"/><path d="M223,0H289V198H509V262H289V460H223V262H3V198H223Z" transform="translate(-6.47,0.00) scale(0.02450,-0.02450)"/><text x="7.84" y="0.00" font-size="24.5">z</text></g>
<g transform="translate(24.40,244.90) rotate(-90) scale(1.0,1.0)"><text x="-64.38" y="0.00" font-size="24.5">log</text><path d="M325,0H237V490H68V551C166,555 228,592 253,688H325Z" transform="translate(-31.69,7.90) scale(0.02030,-0.02030)"/><text x="-20.40" y="7.90" font-size="20.3">0</text><text x="-9.11" y="0.00" font-size="24.5">[ C(z) ]</text></g>
</g>
</svg>
</body></html>
